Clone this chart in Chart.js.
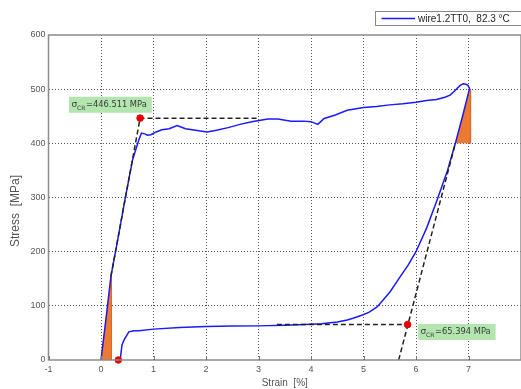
<!DOCTYPE html>
<html><head><meta charset="utf-8">
<script src="https://cdn.jsdelivr.net/npm/chart.js@4/dist/chart.umd.min.js"></script>
<style>
html,body{margin:0;padding:0;background:#fff;overflow:hidden;width:521px;height:389px}
canvas{display:block}
</style></head>
<body>
<canvas id="c" width="526" height="389" style="width:526px;height:389px"></canvas>
<script>
// ---- data ----
const loadStrain = [0.00, 0.10, 0.19, 0.30, 0.46, 0.60, 0.72, 0.77, 0.85, 0.88, 0.95, 1.05, 1.16, 1.30, 1.45, 1.61, 1.80, 2.02, 2.20, 2.42, 2.65, 2.87, 3.18, 3.37, 3.62, 3.85, 4.00, 4.13, 4.25, 4.45, 4.69, 5.00, 5.25, 5.50, 5.75, 6.00, 6.20, 6.39, 6.55, 6.65, 6.75, 6.84, 6.90, 6.95, 6.99, 7.02];
const loadStress = [0, 80, 155, 212, 298, 369, 406, 419, 417, 415, 416, 421, 425, 427, 433, 427, 424, 421, 424, 429, 435, 440, 445, 445, 441, 441, 440, 435, 446, 452, 461, 466, 468, 471, 473, 476, 479, 481, 485, 489, 498, 507, 510, 509, 507, 501];
const unloadStrain = [6.90, 6.75, 6.60, 6.40, 6.20, 5.99, 5.85, 5.70, 5.50, 5.26, 5.10, 4.98, 4.80, 4.69, 4.50, 4.20, 4.00, 3.50, 3.00, 2.50, 2.00, 1.50, 1.00, 0.72, 0.63, 0.53, 0.44, 0.40, 0.37];
const unloadStress = [455, 400, 350, 295, 243, 198, 175, 154, 125, 98, 88, 83, 77, 74, 70, 67, 66, 64, 63, 63, 62, 60, 57, 54, 54, 52, 37, 28, 4];
const critStrain = [0.745, 5.84];
const critStress = [446.511, 65.394];
const startStrain = [0.33];
const startStress = [0];
const fitUpperStrain = [0.19, 0.745, 3.0];
const fitUpperStress = [155, 446.511, 446.511];
const fitLowerStrain = [3.35, 5.84];
const fitLowerStress = [65.394, 65.394];
const slopeStrain = [5.67, 6.75];
const slopeStress = [0, 400];
const triLeftStrain = [0, 0.2, 0.2];
const triLeftStress = [0, 157, 0];
const triRightStrain = [6.75, 7.04, 7.04];
const triRightStress = [400, 500, 400];
const xTicks = [-1, 0, 1, 2, 3, 4, 5, 6, 7, 8];
const yTicks = [0, 100, 200, 300, 400, 500, 600];
const seriesLabel = 'wire1.2TT0,  82.3 °C';
const xTitle = 'Strain  [%]';
const yTitle = 'Stress  [MPa]';

const pts = (xs, ys) => xs.map((x, i) => ({x: x, y: ys[i]}));
const FONT = 'Liberation Sans, Arial, sans-serif';

const decor = {
  id: 'decor',
  afterDatasetsDraw(chart, args, opts) {
    const {ctx, chartArea: a, scales: {x, y}} = chart;
    ctx.save();
    // frame
    ctx.strokeStyle = '#8c8c8c';
    ctx.lineWidth = 1.5;
    ctx.strokeRect(a.left, a.top, a.right - a.left, a.bottom - a.top);
    // small inner ticks at bottom
    ctx.lineWidth = 1;
    ctx.strokeStyle = '#777';
    xTicks.forEach(v => {
      const px = Math.round(x.getPixelForValue(v)) + 0.5;
      ctx.beginPath(); ctx.moveTo(px, a.bottom); ctx.lineTo(px, a.bottom - 4); ctx.stroke();
    });
    // critical-stress labels
    opts.labels.forEach((lab, i) => {
      const bx = x.getPixelForValue(lab.x), by = y.getPixelForValue(lab.y);
      const txt = '=' + critStress[i].toFixed(3) + ' MPa';
      ctx.font = '8.3px "DejaVu Sans"';
      const w = ctx.measureText(txt).width + 22;
      ctx.fillStyle = '#b3e5ae';
      ctx.fillRect(bx, by, w, 16);
      ctx.fillStyle = '#3a3a3a';
      ctx.textBaseline = 'alphabetic';
      ctx.textAlign = 'left';
      ctx.font = '9px "DejaVu Sans"';
      ctx.fillText('σ', bx + 2.5, by + 10.5);
      ctx.font = '6px "DejaVu Sans"';
      ctx.fillText('CR', bx + 8, by + 13.5);
      ctx.font = '8.3px "DejaVu Sans"';
      ctx.fillText(txt, bx + 17, by + 10.5);
    });
    ctx.restore();
  },
  afterDraw(chart, args, opts) {
    const ctx = chart.ctx;
    ctx.save();
    // y-axis title
    ctx.translate(opts.yTitleX, opts.yTitleY);
    ctx.rotate(-Math.PI / 2);
    ctx.fillStyle = '#555';
    ctx.font = '12px ' + FONT;
    ctx.textAlign = 'center';
    ctx.textBaseline = 'middle';
    ctx.fillText(yTitle, 0, 0);
    ctx.restore();
    ctx.save();
    // legend
    ctx.fillStyle = '#fff';
    ctx.fillRect(375.5, 11.5, 160, 14);
    ctx.strokeStyle = '#888';
    ctx.lineWidth = 1;
    ctx.strokeRect(375.5, 11.5, 160, 14);
    ctx.strokeStyle = '#1a1aff';
    ctx.lineWidth = 1.5;
    ctx.beginPath(); ctx.moveTo(381.5, 18.5); ctx.lineTo(415, 18.5); ctx.stroke();
    ctx.fillStyle = '#222';
    ctx.font = '10px ' + FONT;
    ctx.textBaseline = 'middle';
    ctx.fillText(chart.data.datasets[0].label, 418, 19);
    ctx.restore();
  }
};

new Chart(document.getElementById('c'), {
  type: 'line',
  data: {
    datasets: [
      {label: seriesLabel, data: pts(loadStrain.concat(unloadStrain), loadStress.concat(unloadStress)),
       borderColor: '#1a1aff', borderWidth: 1.5, pointRadius: 0, tension: 0, fill: false, order: 4},
      {label: 'fitUpper', data: pts(fitUpperStrain, fitUpperStress), borderColor: '#222', borderWidth: 1.5,
       borderDash: [5, 3], pointRadius: 0, fill: false, order: 3},
      {label: 'fitLower', data: pts(fitLowerStrain, fitLowerStress), borderColor: '#222', borderWidth: 1.5,
       borderDash: [5, 3], pointRadius: 0, fill: false, order: 3},
      {label: 'slope', data: pts(slopeStrain, slopeStress), borderColor: '#222', borderWidth: 1.5,
       borderDash: [5, 3], pointRadius: 0, fill: false, order: 3},
      {label: 'triL', data: pts(triLeftStrain, triLeftStress), borderColor: '#d96a22', borderWidth: 0.8,
       backgroundColor: '#ec7a32', pointRadius: 0, fill: 'origin', order: 5},
      {label: 'triR', data: pts(triRightStrain, triRightStress), borderColor: '#d96a22', borderWidth: 0.8,
       backgroundColor: '#ec7a32', pointRadius: 0, fill: {value: 400}, order: 5},
      {label: 'crit', data: pts(critStrain.concat(startStrain), critStress.concat(startStress)), showLine: false,
       pointRadius: 3.3, pointBackgroundColor: '#e60000', pointBorderColor: '#e60000', clip: false, order: 1}
    ]
  },
  options: {
    responsive: false,
    animation: false,
    devicePixelRatio: 1,
    layout: {padding: {top: 35, right: 1.4, left: 0, bottom: 0}},
    plugins: {
      legend: {display: false},
      tooltip: {enabled: false},
      decor: {labels: [{x: -0.61, y: 486}, {x: 6.04, y: 66.5}], yTitleX: 15.5, yTitleY: 211}
    },
    scales: {
      x: {
        type: 'linear', min: -1, max: 8,
        afterBuildTicks: s => { s.ticks = xTicks.map(v => ({value: v})); },
        afterFit: s => { s.height = 29; },
        grid: {color: c => (c.tick && (c.tick.value === -1 || c.tick.value === 8)) ? 'rgba(0,0,0,0)' : '#555', lineWidth: 1, drawTicks: false},
        border: {display: false, dash: [1, 2]},
        ticks: {color: '#555', font: {family: FONT, size: 9}, padding: 4, maxRotation: 0, autoSkip: false,
                callback: v => v === 8 ? '' : String(v)},
        title: {display: true, text: xTitle, color: '#555', font: {family: FONT, size: 10}, padding: {top: 0, bottom: 0}}
      },
      y: {
        type: 'linear', min: 0, max: 600,
        afterBuildTicks: s => { s.ticks = yTicks.map(v => ({value: v})); },
        afterFit: s => { s.width = 48.5; },
        grid: {color: c => (c.tick && (c.tick.value === 0 || c.tick.value === 600)) ? 'rgba(0,0,0,0)' : '#555', lineWidth: 1, drawTicks: false},
        border: {display: false, dash: [1, 2]},
        ticks: {color: '#555', font: {family: FONT, size: 9}, padding: 3, autoSkip: false},
        title: {display: false}
      }
    }
  },
  plugins: [decor]
});
</script>
</body></html>
